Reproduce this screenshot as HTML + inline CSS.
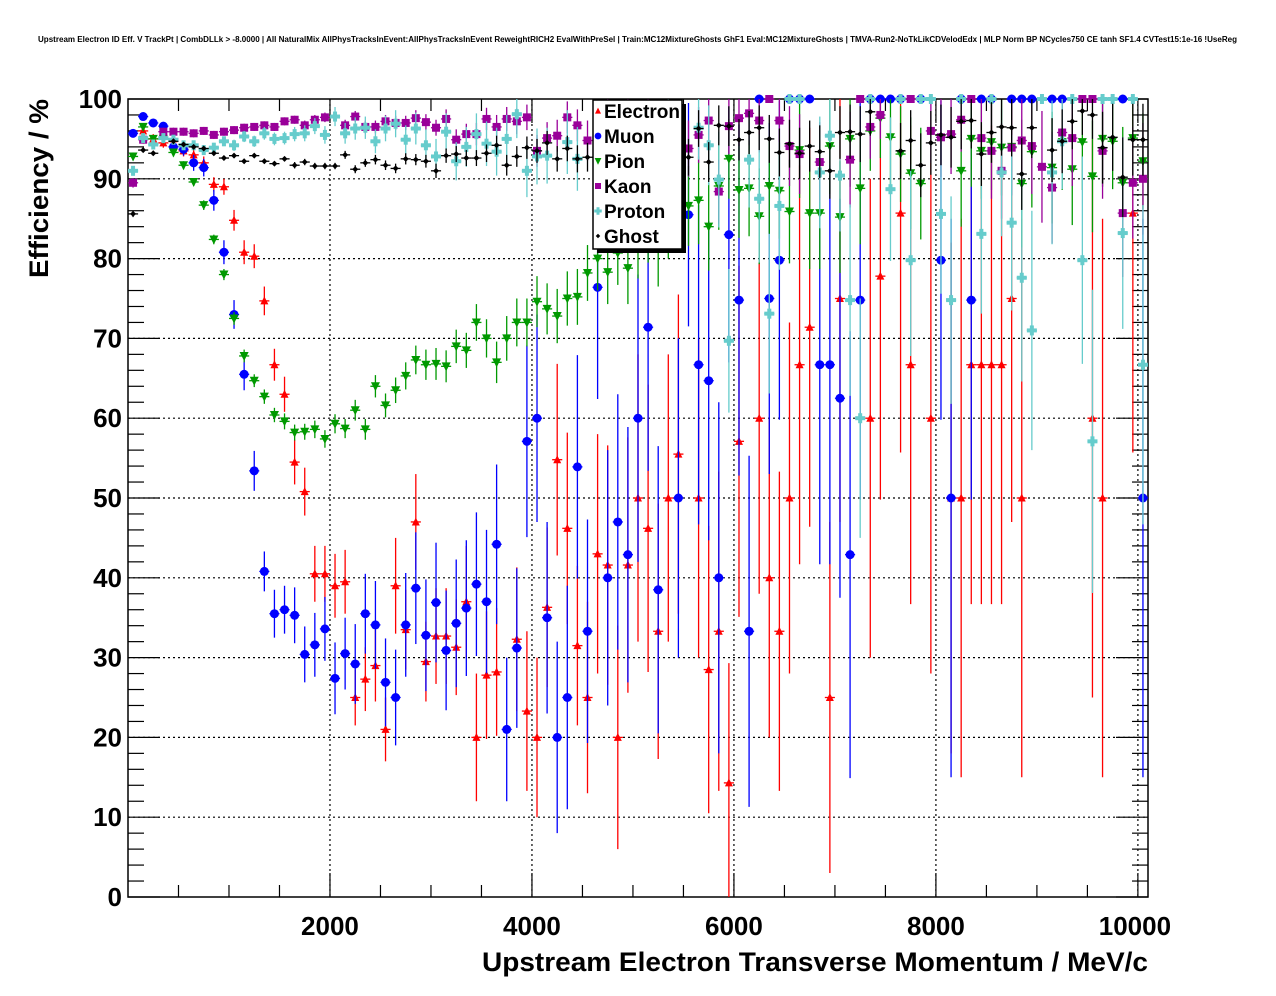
<!DOCTYPE html>
<html><head><meta charset="utf-8"><style>
html,body{margin:0;padding:0;background:#fff;}
svg{display:block;font-family:"Liberation Sans",sans-serif;}
</style></head><body>
<svg id="chart" width="1276" height="996" viewBox="0 0 1276 996">
<rect x="0" y="0" width="1276" height="996" fill="#fff"/>
<text x="38" y="42" font-size="8" font-weight="bold" textLength="1199" lengthAdjust="spacingAndGlyphs">Upstream Electron ID Eff. V TrackPt | CombDLLk &gt; -8.0000 | All NaturalMix AllPhysTracksInEvent:AllPhysTracksInEvent ReweightRICH2 EvalWithPreSel | Train:MC12MixtureGhosts GhF1 Eval:MC12MixtureGhosts | TMVA-Run2-NoTkLikCDVelodEdx | MLP Norm BP NCycles750 CE tanh SF1.4 CVTest15:1e-16 !UseReg</text>
<g id="grid"></g>
<g id="axes"></g>
<g id="marks"></g>
<text x="1148" y="971" text-anchor="end" font-size="27" font-weight="bold" textLength="666" lengthAdjust="spacingAndGlyphs">Upstream Electron Transverse Momentum / MeV/c</text>
<text transform="translate(48,99) rotate(-90)" text-anchor="end" font-size="27" font-weight="bold" textLength="179" lengthAdjust="spacingAndGlyphs">Efficiency / %</text>
<g id="legend">
<rect x="597" y="104" width="89" height="149" fill="#000"/>
<rect x="593" y="100" width="89" height="149" fill="#fff" stroke="#000" stroke-width="1.5"/>
</g>
</svg>
<script>
// ---------- data (bin centres in MeV/c, efficiency %, error %) ----------
const eleX=[150,250,350,450,550,650,750,850,950,1050,1150,1250,1350,1450,1550,1650,1750,1850,1950,2050,2150,2250,2350,2450,2550,2650,2750,2850,2950,3050,3150,3250,3350,3450,3550,3650,3850,3950,4050,4150,4250,4350,4450,4550,4650,4750,4850,4950,5050,5150,5250,5350,5450,5650,5750,5850,5950,6050,6250,6350,6450,6550,6650,6750,6950,7050,7350,7450,7650,7750,7950,8150,8250,8350,8450,8550,8650,8750,8850,9550,9650,9950];
const eleY=[96,95,94.5,95,93.5,93,92,89.3,89,84.8,80.8,80.3,74.7,66.7,63,54.5,50.8,40.5,40.5,39,39.5,25,27.3,29,21,39,33.5,47,29.5,32.7,32.7,31.3,37,20,27.8,28.2,32.3,23.3,20,36.3,54.8,46.2,31.5,25,43,41.6,20,41.6,50,46.2,33.3,50,55.5,50,28.5,33.3,14.3,57.1,60,40,33.3,50,66.7,71.4,25,75,60,77.8,85.7,66.7,60,50,50,66.7,66.7,66.7,66.7,75,50,60,50,85.7,100];
const eleE=[0.6,0.6,0.6,0.6,0.7,0.7,0.8,0.9,1,1.3,1.5,1.5,1.8,2,2.2,2.8,3,3.5,3.5,4,4,3.5,4,4.5,4,6,5,6,5,6,6,6,7,8,8,8,9,10,10,10,12,12,10,12,15,15,14,16,18,18,16,18,20,20,18,20,15,22,22,20,20,22,25,25,22,28,30,28,30,30,32,32,35,30,30,30,30,28,35,35,35,30,0];
const muX=[50,150,250,350,450,550,650,750,850,950,1050,1150,1250,1350,1450,1550,1650,1750,1850,1950,2050,2150,2250,2350,2450,2550,2650,2750,2850,2950,3050,3150,3250,3350,3450,3550,3650,3750,3850,3950,4050,4150,4250,4350,4450,4550,4650,4750,4850,4950,5050,5150,5250,5450,5550,5650,5750,5850,5950,6050,6150,6250,6350,6450,6550,6650,6750,6850,6950,7050,7150,7250,7350,7450,7550,7650,7850,8050,8150,8250,8350,8450,8550,8750,8850,8950,9150,9250,9850,10050];
const muY=[95.7,97.8,97,96.6,94,93.7,92,91.4,87.3,80.8,73,65.5,53.4,40.8,35.5,36,35.3,30.4,31.6,33.6,27.4,30.5,29.2,35.5,34.1,26.9,25,34.1,38.7,32.8,36.9,30.9,34.3,36.2,39.2,37,44.2,21,31.2,57.1,60,35,20,25,53.9,33.3,76.4,40,47,42.9,60,71.4,38.5,50,85.5,66.7,64.7,40,83,74.8,33.3,100,75,79.8,100,100,100,66.7,66.7,62.5,42.9,74.8,100,100,100,100,100,79.8,50,100,74.8,100,100,100,100,100,100,100,100,50];
const muE=[0.5,0.4,0.5,0.5,0.7,0.8,1,1.1,1.3,1.5,1.8,2,2.5,2.5,3,3,3.5,3.5,4,4,4.5,4.5,5,5,5.5,5.5,6,6.5,7,7,7.5,7.5,8,8.5,9,9,10,9,10,12,13,12,12,14,14,14,14,16,16,16,18,18,18,20,14,20,20,22,16,22,22,0,22,20,0,0,0,25,25,25,28,25,0,0,0,0,0,20,35,0,25,0,0,0,0,0,0,0,0,35];
const piX=[50,150,250,350,450,550,650,750,850,950,1050,1150,1250,1350,1450,1550,1650,1750,1850,1950,2050,2150,2250,2350,2450,2550,2650,2750,2850,2950,3050,3150,3250,3350,3450,3550,3650,3750,3850,3950,4050,4150,4250,4350,4450,4550,4650,4750,4850,4950,5050,5150,5250,5350,5450,5550,5650,5750,5850,5950,6050,6150,6250,6350,6450,6550,6650,6750,6850,6950,7050,7150,7250,7350,7450,7550,7650,7750,7850,8250,8350,8450,8550,8650,8750,8850,8950,9150,9250,9350,9450,9550,9650,9750,9850,9950,10050];
const piY=[92.8,96.5,95,95,93.3,91.7,89.6,86.7,82.4,78,72.5,67.8,64.7,62.7,60.4,59.6,58.2,58.3,58.6,57.4,59.3,58.7,61,58.6,64,61.6,63.5,65.3,67.3,66.7,66.8,66.5,69,68.5,72,70,67,70,72,72,74.6,73.7,72.8,75,75.2,78.2,80,78.3,80.7,78.8,82,84,81.5,85,88.6,86.6,87.3,84,89.1,92.5,88.6,88.8,85.3,89.1,88.5,85.9,93.6,85.7,85.7,94.1,85.2,95,88.8,96,97.6,95.2,93.1,90.7,89.4,91,95,93.5,94.6,93.9,94,89.4,93.4,91.4,94.6,91.2,94.6,90.3,95,94.7,89.5,95.1,92.2];
const piE=[0.5,0.4,0.4,0.4,0.5,0.5,0.5,0.6,0.6,0.7,0.8,0.8,0.8,0.9,0.9,1,1,1,1.1,1.1,1.2,1.2,1.3,1.3,1.4,1.5,1.6,1.7,1.8,1.9,2,2,2.1,2.2,2.3,2.4,2.6,2.8,3,3,3.2,3.2,3.4,3.4,3.5,3.5,4,4,4,4.5,4.5,4.5,5,5,5,5,5.5,5.5,5.5,5,6,6,6,6,6,6.5,6,7,7,6,7,6,7,5,5,6,6,7,7,7,6,6,6,6,6,8,7,7,6,7,6,7,6,6,7,5,6];
const kaX=[50,150,350,450,550,650,750,850,950,1050,1150,1250,1350,1450,1550,1650,1750,1850,1950,2150,2250,2350,2450,2550,2650,2750,2850,2950,3050,3150,3250,3350,3450,3550,3650,3750,3850,3950,4050,4150,4250,4350,4450,4550,4750,4950,5150,5350,5550,5650,5750,5850,5950,6050,6150,6250,6350,6450,6550,6650,6850,7150,7250,7350,7450,7750,7950,8050,8150,8250,8350,8450,8550,8650,8750,8850,8950,9050,9150,9250,9350,9450,9550,9650,9850,9950,10050];
const kaY=[89.5,94.9,95.9,95.9,95.9,95.7,96,95.5,95.9,96.1,96.4,96.5,96.7,96.5,97.2,97.4,96.7,97.4,97.7,96.7,97.8,96.5,96.5,97.2,97,97,97.6,97.1,96.4,97.5,94.9,95.6,95.6,97.5,96.5,97.5,97.2,97.7,93.5,95.1,95.4,97.7,96.7,94.8,98,97.5,97,96,93.8,95.5,97.3,88.4,96.6,97.6,98.2,97.3,100,97.3,94.1,93.1,92.1,92.4,100,96.5,98,100,96,95.2,95.6,97.4,100,95.1,93.5,91,93.9,94.8,94.1,91.5,88.9,95.8,95.1,100,100,93.5,85.7,89.5,90];
const kaE=[0.6,0.5,0.5,0.5,0.5,0.5,0.5,0.5,0.5,0.5,0.5,0.5,0.5,0.5,0.5,0.5,0.6,0.6,0.6,0.7,0.7,0.8,0.8,0.8,0.9,0.9,1,1,1,1.2,1.3,1.3,1.4,1.4,1.5,1.5,1.6,1.6,2,2,2,2,2,2.5,2.5,2.5,3,3,3.5,3.5,3,4,3.5,3.5,4,4,0,4,5,5,5,6,0,4,3,0,4,5,5,4,0,5,6,6,6,6,6,7,7,5,6,0,0,6,8,7,7];
const prX=[50,150,250,350,450,550,650,750,850,950,1050,1150,1250,1350,1450,1550,1650,1750,1850,1950,2050,2150,2250,2350,2450,2550,2650,2750,2850,2950,3050,3150,3250,3350,3450,3550,3650,3750,3850,3950,4050,4150,4350,4450,4750,4950,5150,5350,5650,5750,5850,5950,6150,6250,6350,6450,6550,6650,6850,6950,7050,7150,7250,7350,7550,7650,7750,7850,7950,8050,8150,8250,8450,8550,8650,8750,8850,8950,9050,9150,9250,9350,9450,9550,9650,9750,9850,9950,10050];
const prY=[91,95.1,94.3,95.1,94.9,94.2,94.2,93.6,93.9,94.7,94.2,95.3,94.7,95.7,95,95.1,95.6,95.7,96.6,95.5,97.8,95.7,96.3,96.4,94.7,96.3,96.9,94.9,96.3,94.2,92.8,95.9,92.2,94,95.6,94.4,93.4,95,98.1,91,92.8,92.9,94.6,92.5,95,93,94,96,96.4,94.2,89.9,69.7,92.4,87.5,73.1,86.6,100,100,90.8,95.4,90.4,74.8,60,100,88.7,100,79.8,100,100,85.6,74.8,100,83.1,100,90.8,84.5,77.6,71,100,90.8,94.7,100,79.8,57.1,100,100,83.2,100,66.7];
const prE=[0.6,0.5,0.5,0.5,0.5,0.5,0.5,0.6,0.6,0.6,0.7,0.7,0.7,0.8,0.8,0.8,0.9,1,1,1.1,1.2,1.3,1.4,1.4,1.5,1.6,1.7,1.8,2,2,2.2,2.3,2.4,2.5,2.6,2.8,3,3,3,3.3,3.5,3.5,4,4,4,4.5,4.5,5,4,5,6,9,6,8,10,8,0,0,7,5,7,12,15,0,9,0,12,0,0,10,13,0,10,0,8,11,13,15,0,9,6,0,13,19,0,0,12,0,20];
const ghX=[50,150,250,450,550,650,750,850,950,1050,1150,1250,1350,1450,1550,1650,1750,1850,1950,2050,2150,2250,2350,2450,2550,2650,2750,2850,2950,3050,3150,3250,3350,3450,3550,3650,3750,3850,3950,4050,4150,4250,4350,4450,4550,4750,4950,5150,5350,5550,5650,5750,5850,5950,6050,6150,6250,6350,6450,6550,6650,6750,6850,6950,7050,7150,7250,7350,7650,7750,7850,7950,8050,8150,8250,8350,8450,8550,8650,8750,8850,8950,9150,9250,9350,9450,9550,9650,9750,9850,9950,10050];
const ghY=[85.6,93.6,93.2,94.7,94.3,94,93.8,93.2,92.6,92.9,92.2,92.9,92.2,91.9,92.5,91.7,92.1,91.6,91.6,91.6,93,91.2,92,92.4,91.7,91.3,92.5,92.4,92.2,91,92.9,93.1,92.6,92.6,93.2,94.2,91.7,92.8,93.9,93.5,94.5,92.5,93.8,92.5,92.7,95.5,94,93,92.5,92.7,96.3,92.1,96.7,96.6,94.9,95.8,96.4,95,93.3,94.4,93.2,94.1,93.4,91,95.8,95.9,95.6,98.4,93.5,94.8,91.7,94.5,95.5,95.2,97.2,97.3,93.1,95.8,96.5,96.4,90.6,96.4,93.6,94.7,97.2,98.5,98,93.9,95.2,90.2,94.9,94.9];
const ghE=[0.4,0.3,0.3,0.3,0.3,0.3,0.3,0.3,0.3,0.3,0.3,0.3,0.3,0.3,0.3,0.4,0.4,0.4,0.4,0.4,0.5,0.5,0.5,0.6,0.6,0.6,0.7,0.7,0.8,0.9,0.9,1,1,1,1.1,1.2,1.3,1.3,1.4,1.5,1.5,1.6,1.6,1.7,1.8,2,2,2,2.2,2.3,2.3,2.5,2.5,2.5,2.6,2.7,2.8,3,3,3,3.2,3.2,3.3,3.5,3.3,3.4,3.5,3,3.5,3.8,4,4,3.8,3.8,3.5,3.5,4,3.8,3.6,3.6,4.5,3.8,4,4,3.5,3,3,4.5,4.2,5,4.5,4.5];
const yTicks=[0,10,20,30,40,50,60,70,80,90,100];
const xTicks=[2000,4000,6000,8000,10000];
const legendLabels=["Electron","Muon","Pion","Kaon","Proton","Ghost"];

// ---------- axis functions ----------
const X0=128,X1=1148,Y0=897,Y1=99,XMAX=10100,YMAX=100;
const sx=v=>X0+(v/XMAX)*(X1-X0);
const sy=v=>Y0-(v/YMAX)*(Y0-Y1);
const NS="http://www.w3.org/2000/svg";
function mk(tag,attrs,parent){const e=document.createElementNS(NS,tag);for(const k in attrs)e.setAttribute(k,attrs[k]);parent.appendChild(e);return e;}
const grid=document.getElementById('grid'),axes=document.getElementById('axes'),marks=document.getElementById('marks'),legend=document.getElementById('legend');

yTicks.forEach(v=>{if(v>0&&v<100){const l=mk('line',{x1:X0,x2:X1,y1:sy(v),y2:sy(v),stroke:'#000','stroke-width':1.2,'stroke-dasharray':'2,3'},grid);

}});
xTicks.forEach(v=>{if(v<XMAX){const l=mk('line',{x1:sx(v),x2:sx(v),y1:Y1,y2:Y0,stroke:'#000','stroke-width':1.2,'stroke-dasharray':'2,3'},grid);

}});

const fr=mk('rect',{x:X0,y:Y1,width:X1-X0,height:Y0-Y1,fill:'none',stroke:'#000','stroke-width':1.5},axes);


for(let v=0;v<=100;v+=2){const maj=v%10===0;const len=maj?32:16;
mk('line',{x1:X0,x2:X0+len,y1:sy(v),y2:sy(v),stroke:'#000','stroke-width':1.2},axes);
mk('line',{x1:X1,x2:X1-len,y1:sy(v),y2:sy(v),stroke:'#000','stroke-width':1.2},axes);}
yTicks.forEach(v=>{const t=mk('text',{x:122,y:sy(v)+9,'text-anchor':'end','font-size':26,'font-weight':'bold'},axes);t.textContent=v;

});
for(let v=500;v<XMAX;v+=500){const maj=v%2000===0;const len=maj?24:12;
mk('line',{x1:sx(v),x2:sx(v),y1:Y0,y2:Y0-len,stroke:'#000','stroke-width':1.2},axes);
mk('line',{x1:sx(v),x2:sx(v),y1:Y1,y2:Y1+len,stroke:'#000','stroke-width':1.2},axes);}
xTicks.forEach(v=>{const t=mk('text',{x:sx(v)-(v>=10000?3:0),y:935,'text-anchor':'middle','font-size':26,'font-weight':'bold'},axes);t.textContent=v;

});

function marker(type,cx,cy,col,g){
 if(type==='tri') mk('polygon',{points:`${cx-4},${cy+3.5} ${cx+4},${cy+3.5} ${cx},${cy-4.5}`,fill:col},g);
 else if(type==='circ') mk('circle',{cx:cx,cy:cy,r:4.5,fill:col},g);
 else if(type==='dtri') mk('polygon',{points:`${cx-4.5},${cy-4} ${cx+4.5},${cy-4} ${cx},${cy+5}`,fill:col},g);
 else if(type==='sq') mk('rect',{x:cx-4,y:cy-4,width:8,height:8,fill:col},g);
 else if(type==='plus'){mk('rect',{x:cx-5,y:cy-2,width:10,height:4,fill:col},g);mk('rect',{x:cx-2,y:cy-5,width:4,height:10,fill:col},g);}
 else if(type==='dia') mk('polygon',{points:`${cx-3},${cy} ${cx},${cy-3} ${cx+3},${cy} ${cx},${cy+3}`,fill:col},g);
}
function series(name,xs,ys,es,col,type){
 const g=mk('g',{},marks);
 
 
 xs.forEach((x,i)=>{const cx=sx(x),cy=sy(ys[i]);const e=es[i]||0;
  const p=mk('g',{},g);
  
  
  mk('line',{x1:sx(x-50),x2:sx(x+50),y1:cy,y2:cy,stroke:col,'stroke-width':1.3},p);
  if(e>0) mk('line',{x1:cx,x2:cx,y1:sy(Math.min(100,ys[i]+e)),y2:sy(Math.max(0,ys[i]-e)),stroke:col,'stroke-width':1.3},p);
  marker(type,cx,cy,col,p);
 });
}
series('electron',eleX,eleY,eleE,'#ff0000','tri');
series('muon',muX,muY,muE,'#0000ff','circ');
series('pion',piX,piY,piE,'#009900','dtri');
series('kaon',kaX,kaY,kaE,'#990099','sq');
series('proton',prX,prY,prE,'#66cccc','plus');
series('ghost',ghX,ghY,ghE,'#000000','dia');

const svg=document.getElementById('chart');svg.appendChild(legend);
const lcol=['#ff0000','#0000ff','#009900','#990099','#66cccc','#000000'];
const ltype=['tri','circ','dtri','sq','plus','dia'];
legendLabels.forEach((lab,i)=>{const y=111+i*25;
 const g=mk('g',{},legend);
 
 
 const mg=mk('g',{transform:`translate(598,${y}) scale(0.75) translate(-598,${-y})`},g);
 marker(ltype[i],598,y,lcol[i],mg);
 const t=mk('text',{x:604,y:y+7,'font-size':19,'font-weight':'bold'},g);t.textContent=lab;});
</script>
</body></html>
